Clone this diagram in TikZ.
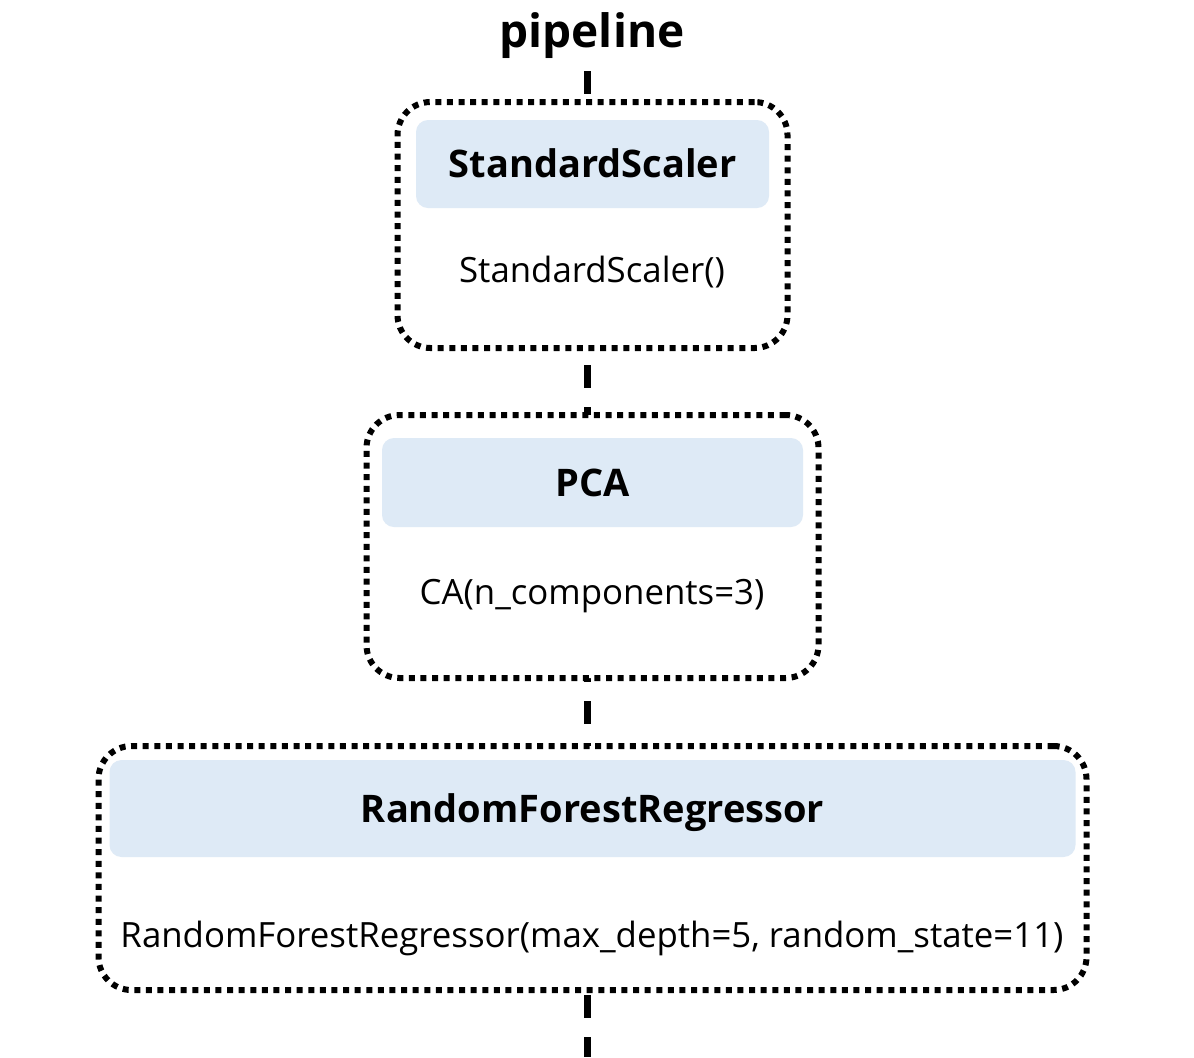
\documentclass[tikz,border=0pt]{standalone}
\usepackage{fontspec}
\setmainfont{Open Sans}
\usetikzlibrary{positioning}
\definecolor{headblue}{RGB}{222,234,246}
\tikzset{
  stepframe/.style={draw, line width=3pt, dash pattern=on 3pt off 2.8pt,
    rounded corners=16.5pt, fill=white, inner sep=0pt},
  stephead/.style={fill=headblue, rounded corners=6pt, inner sep=0pt,
    font=\bfseries\fontsize{19}{22}\selectfont, text height=13.6pt, text depth=0pt},
  steptext/.style={inner sep=0pt, font=\fontsize{17.4}{20}\selectfont,
    text height=12.4pt, text depth=0pt},
  flow/.style={line width=3.5pt, dash pattern=on 11.5pt off 9.5pt},
}
\begin{document}
\begin{tikzpicture}[x=0.5pt,y=-0.5pt]
  \useasboundingbox (0,0) rectangle (1194,1057);
  \node (title) [anchor=base, inner sep=0pt, font=\bfseries\fontsize{23}{27}\selectfont]
    at (592,47) {pipeline};
  \coordinate (start) at (587,71);
  \coordinate (out) at (587,1057);
  \draw [flow] (start) -- (out);

  % frame centre y, width, height; header centre y, width, height; texts
  \foreach \n/\y/\w/\h/\hy/\hw/\hh/\lbl/\ty/\txt in {
      scaler/225/390/246/164/353/88/StandardScaler/270/StandardScaler(),
      pca/546.5/452/263/482.5/421/89/PCA/592/CA(n\_components=3),
      forest/868/988/244/808.5/966/97/RandomForestRegressor/935/%
        {RandomForestRegressor(max\_depth=5, random\_state=11)}
    }{
    \node (\n) [stepframe, minimum width=\w*0.5pt, minimum height=\h*0.5pt] at (592.5,\y) {};
    \node (\n head) [stephead, minimum width=\hw*0.5pt, minimum height=\hh*0.5pt]
      at (592.5,\hy) {\lbl};
    \node (\n text) [steptext] at (592,\ty) {\txt};
  }
\end{tikzpicture}
\end{document}
